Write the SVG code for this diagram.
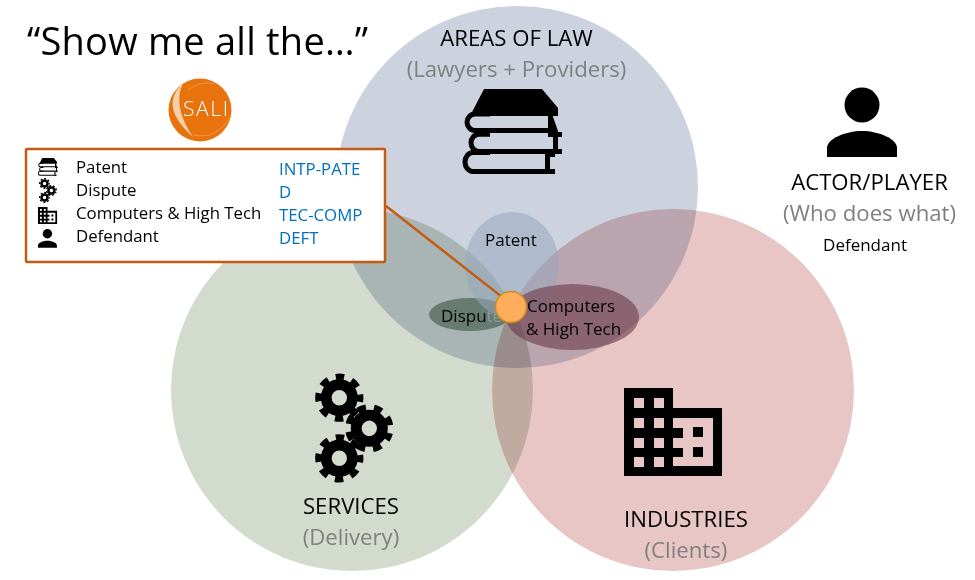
<svg xmlns="http://www.w3.org/2000/svg" xmlns:xlink="http://www.w3.org/1999/xlink" width="975" height="580" viewBox="0 0 975 580">
<style>
text{font-family:"Open Sans","Noto Sans","Liberation Sans",sans-serif;fill:#000}
.h{font-size:22.200px;text-anchor:middle}
.g{font-size:22.200px;text-anchor:middle;fill:#808080}
.s{font-size:17px}
.l{font-size:16.800px}
.b{font-size:16.800px;fill:#0070C0}
.c{mix-blend-mode:multiply}
</style>
<defs>
<g id="book">
<path d="M470 116L484 89H542L558 108V116Z" fill="#000"/>
<g fill="none" stroke="#000" stroke-width="5">
<path d="M490 114H475a8 8.250 0 0 0 0 16.500H552"/>
<path d="M490 134.300H479a8 8.600 0 0 0 0 17.200H555"/>
<path d="M490 152.500H473a8 9.500 0 0 0 0 19H555"/>
</g>
<path d="M548 114H552L558 131V132H562V137H548ZM553 136H558V149H562V154H553ZM545 154H555V157H550V169H555V174H545Z" fill="#000"/>
</g>
<g id="gear" fill="none" stroke="#000">
<circle r="13.100" stroke-width="10.800"/>
<circle r="21" stroke-width="6.200" stroke-dasharray="8.500 7.993" stroke-dashoffset="4.250"/>
</g>
<g id="gears">
<use xlink:href="#gear" href="#gear" transform="translate(339.300 397.700)"/>
<use xlink:href="#gear" href="#gear" transform="translate(369.300 428.300) rotate(22.500)"/>
<use xlink:href="#gear" href="#gear" transform="translate(339.300 458.300)"/>
</g>
<path id="building" fill="#000" fill-rule="evenodd" d="M624 388H673V408H722V476H624ZM634 398V408H644V398ZM654 398V408H664V398ZM634 418V428H644V418ZM654 418V428H664V418ZM634 438V448H644V438ZM654 438V448H664V438ZM634 457V467H644V457ZM654 457V467H664V457ZM673 418V428H683V438H673V448H683V457H673V466H713V418ZM693 427V437H703V427ZM693 447V457H703V447Z"/>
<g id="person" fill="#000">
<circle cx="862" cy="105" r="17.500"/>
<path d="M827 157V148C827 139 845 131 862 131C879 131 897 139 897 148V157Z"/>
</g>
</defs>
<rect width="975" height="580" fill="#fff"/>
<g id="venn">
<circle class="c" cx="517" cy="187" r="181" fill="#CCD3DF"/>
<circle class="c" cx="352" cy="390" r="181" fill="#D3DBCE"/>
<circle class="c" cx="673" cy="390" r="181" fill="#E9C6C6"/>
</g>
<g id="title"><text x="27" y="55" font-size="38" textLength="341">“Show me all the…”</text></g>
<g id="logo">
<circle cx="200" cy="110" r="31.500" fill="#E8730C"/>
<path d="M183 83Q158 106 193 137Q172 106 183 83Z" fill="#F8CFA8"/>
<path d="M193 135Q218 140 231 115M188 90Q200 80 215 84" fill="none" stroke="#F0964A" stroke-width="1"/>
<text x="183" y="116" font-size="21" textLength="45" font-weight="300" style="fill:#fff">SALI</text>
</g>
<g id="areas-of-law">
<text class="h" x="516.500" y="46">AREAS OF LAW</text>
<text class="g" x="516.500" y="77">(Lawyers + Providers)</text>
<use xlink:href="#book" href="#book"/>
</g>
<g id="services">
<use xlink:href="#gears" href="#gears"/>
<text class="h" x="351" y="514">SERVICES</text>
<text class="g" x="351" y="545">(Delivery)</text>
</g>
<g id="industries">
<use xlink:href="#building" href="#building"/>
<text class="h" x="686" y="527">INDUSTRIES</text>
<text class="g" x="686" y="558">(Clients)</text>
</g>
<g id="actor">
<use xlink:href="#person" href="#person"/>
<text class="h" x="869.500" y="190">ACTOR/PLAYER</text>
<text class="g" x="869.500" y="221">(Who does what)</text>
<text class="s" x="865" y="251" text-anchor="middle">Defendant</text>
</g>
<g id="dispute">
<ellipse cx="470" cy="314.500" rx="41" ry="16.500" fill="#5F7469" opacity=".9"/>
<text class="s" x="441" y="322">Dispu<tspan style="fill:#8A9AA2">te</tspan></text>
</g>
<g id="patent">
<ellipse cx="512" cy="265" rx="47" ry="53" fill="#98A6BD" opacity=".55"/>
<text class="s" x="485" y="246">Patent</text>
</g>
<g id="computers">
<ellipse cx="572.500" cy="317" rx="66.500" ry="33" fill="#6B3A4A" opacity=".6"/>
<text class="s" x="527" y="312">Computers</text>
<text class="s" x="526" y="335">&amp; High Tech</text>
</g>
<g id="connectors">
<line x1="386" y1="206" x2="511" y2="304" stroke="#C55A11" stroke-width="2.500"/>
</g>
<g id="marker-node">
<circle cx="511" cy="307" r="15.500" fill="#FFAD5C" stroke="#C8901A" stroke-width="1.500"/>
</g>
<g id="legend">
<rect x="26" y="149" width="359" height="113" fill="#fff" stroke="#C55A11" stroke-width="2.500" rx="1"/>
<use xlink:href="#book" href="#book" transform="translate(-54.600 139.300) scale(.2 .21)"/>
<use xlink:href="#gears" href="#gears" transform="translate(-33.500 92) scale(.23)"/>
<use xlink:href="#building" href="#building" transform="translate(-83.700 131.300) scale(.195)"/>
<use xlink:href="#person" href="#person" transform="translate(-185.300 205.400) scale(.27)"/>
<text class="l" x="76" y="173">Patent</text>
<text class="l" x="76" y="196">Dispute</text>
<text class="l" x="76" y="219">Computers &amp; High Tech</text>
<text class="l" x="76" y="242">Defendant</text>
<text class="b" x="279" y="175">INTP-PATE</text>
<text class="b" x="279" y="198">D</text>
<text class="b" x="279" y="221">TEC-COMP</text>
<text class="b" x="279" y="244">DEFT</text>
</g>
</svg>
